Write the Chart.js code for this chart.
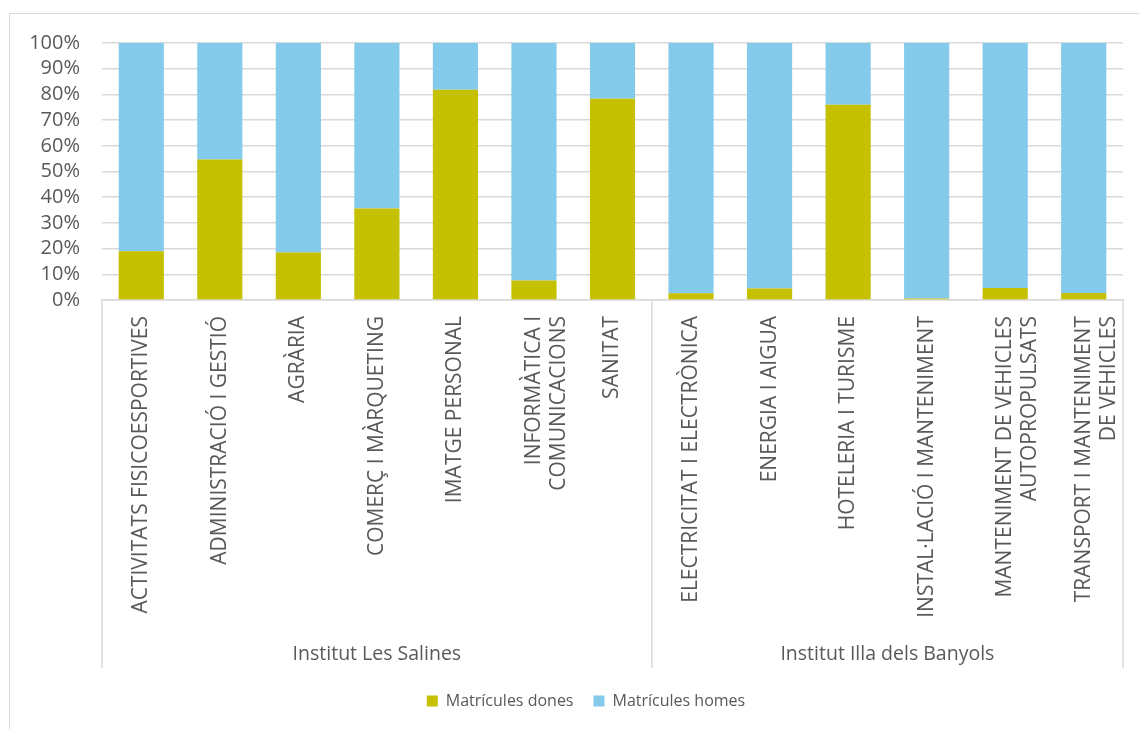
<!DOCTYPE html>
<html>
<head>
<meta charset="utf-8">
<script src="https://cdn.jsdelivr.net/npm/chart.js@4/dist/chart.umd.min.js"></script>
<style>
  html, body { margin: 0; padding: 0; background: #fff; overflow: hidden; }
  #wrap { position: absolute; left: 9px; top: 13px; width: 1160px; height: 730px;
          border: 1px solid #d9d9d9; box-sizing: border-box; }
  #canvas { display: block; position: relative; top: -5px; }
</style>
</head>
<body>
<div id="wrap"><canvas id="canvas"></canvas></div>
<script>
// categories (multi-line labels as arrays)
const categories = [
  'ACTIVITATS FISICOESPORTIVES',
  'ADMINISTRACIÓ I GESTIÓ',
  'AGRÀRIA',
  'COMERÇ I MÀRQUETING',
  'IMATGE PERSONAL',
  ['INFORMÀTICA I', 'COMUNICACIONS'],
  'SANITAT',
  'ELECTRICITAT I ELECTRÒNICA',
  'ENERGIA I AIGUA',
  'HOTELERIA I TURISME',
  'INSTAL·LACIÓ I MANTENIMENT',
  ['MANTENIMENT DE VEHICLES', 'AUTOPROPULSATS'],
  ['TRANSPORT I MANTENIMENT', 'DE VEHICLES']
];
const groups = ['Institut Les Salines', 'Institut Illa dels Banyols'];
const groupSizes = [7, 6];

// share of enrolments, %
const dones = [19, 54.7, 18.5, 35.6, 81.8, 7.6, 78.3, 2.6, 4.5, 76, 0.6, 4.7, 2.7];
const homes = [81, 45.3, 81.5, 64.4, 18.2, 92.4, 21.7, 97.4, 95.5, 24, 99.4, 95.3, 97.3];

const yTicks = [0, 10, 20, 30, 40, 50, 60, 70, 80, 90, 100];

const gray = '#595959';
const lineGray = '#d9d9d9';
const AXIS_H = 368;

const cv = document.getElementById('canvas');
cv.width = 1152; cv.height = 721;
cv.style.width = '1152px'; cv.style.height = '721px';

// group labels and separators under the category axis
const groupAxis = {
  id: 'groupAxis',
  beforeDraw(chart) {
    // the source chart is wider than the crop: centre the legend on the full width
    chart.legend.left = 0;
    chart.legend.right = chart.width;
  },
  afterDraw(chart) {
    const x = chart.scales.x;
    const ctx = chart.ctx;
    const top = chart.chartArea.bottom;
    const bottom = top + AXIS_H;
    const half = (x.getPixelForValue(1) - x.getPixelForValue(0)) / 2;
    ctx.save();
    ctx.strokeStyle = lineGray;
    ctx.lineWidth = 1.5;
    let start = 0;
    const edges = [x.getPixelForValue(0) - half];
    groupSizes.forEach(n => {
      edges.push(x.getPixelForValue(start + n - 1) + half);
      start += n;
    });
    edges.forEach(px => {
      ctx.beginPath();
      ctx.moveTo(px, top);
      ctx.lineTo(px, bottom);
      ctx.stroke();
    });
    ctx.fillStyle = gray;
    ctx.font = '19.5px "Open Sans"';
    ctx.textAlign = 'center';
    ctx.textBaseline = 'middle';
    groups.forEach((g, i) => {
      ctx.fillText(g, (edges[i] + edges[i + 1]) / 2, bottom - 14);
    });
    ctx.restore();
  }
};

new Chart(cv.getContext('2d'), {
  type: 'bar',
  data: {
    labels: categories,
    datasets: [
      { label: 'Matrícules dones', data: dones, backgroundColor: '#c5c000' },
      { label: 'Matrícules homes', data: homes, backgroundColor: '#84caeb' }
    ]
  },
  options: {
    responsive: false,
    animation: false,
    layout: { padding: { top: 0, right: 39, left: 0, bottom: 11 } },
    datasets: { bar: { barPercentage: 1, categoryPercentage: 0.575 } },
    plugins: {
      legend: {
        position: 'bottom',
        labels: { color: gray, font: { family: 'Open Sans', size: 16 },
                  boxWidth: 11, boxHeight: 11, padding: 20 }
      },
      tooltip: { enabled: false }
    },
    scales: {
      x: {
        stacked: true,
        grid: { display: false },
        border: { color: lineGray, width: 1.5 },
        ticks: { color: gray, font: { family: 'Open Sans', size: 21 },
                 maxRotation: 90, minRotation: 90, autoSkip: false, padding: 8 },
        afterFit(s) { s.height = AXIS_H + 5; }
      },
      y: {
        stacked: true,
        min: 0, max: 100,
        afterBuildTicks(s) { s.ticks = yTicks.map(v => ({ value: v })); },
        grid: { color: lineGray, lineWidth: 1.5, drawTicks: false },
        border: { display: false },
        ticks: { color: gray, font: { family: 'Open Sans', size: 20 }, padding: 22,
                 autoSkip: false, callback: v => v + '%' },
        afterFit(s) { s.width = 92; }
      }
    }
  },
  plugins: [groupAxis]
});
</script>
</body>
</html>
